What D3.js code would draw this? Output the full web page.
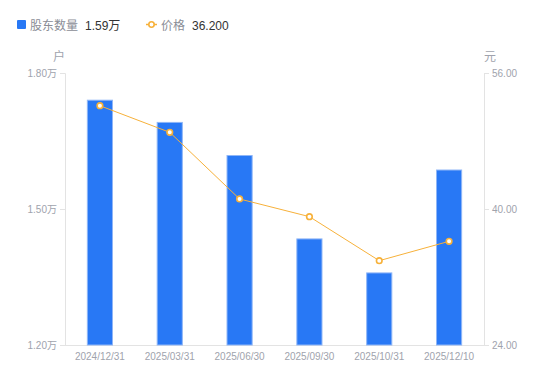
<!DOCTYPE html>
<html><head><meta charset="utf-8">
<script src="https://cdn.jsdelivr.net/npm/d3@7"></script>
<style>
html,body{margin:0;padding:0;background:#fff;}
svg{display:block;font-family:"Liberation Sans","Noto Sans CJK SC",sans-serif;}
</style></head>
<body><svg id="c" width="550" height="381"></svg>
<script>
const categories = ["2024/12/31","2025/03/31","2025/06/30","2025/09/30","2025/10/31","2025/12/10"];
const holders = [1.740, 1.691, 1.618, 1.434, 1.359, 1.586]; // 万户
const prices = [52.15, 49.02, 41.18, 39.10, 33.92, 36.20];
const leftTicks = [1.20, 1.50, 1.80];
const rightTicks = [24, 40, 56];
const legendNames = ["股东数量", "价格"];
const legendValues = ["1.59万", "36.200"];

const FONT = "'Liberation Sans','Noto Sans CJK SC',sans-serif";
const svg = d3.select("#c");
const m = {l:65, r:484, t:73, b:345};
const x = d3.scaleBand().domain(categories).range([m.l, m.r]).paddingInner(0.64).paddingOuter(0.32);
const yL = d3.scaleLinear().domain([1.2, 1.8]).range([m.b, m.t]);
const yR = d3.scaleLinear().domain([24, 56]).range([m.b, m.t]);

const axisColor = "#e3e3e3", txtColor = "#a0a3ad";
const barColor = "#2878f5", lineColor = "#f7b13a";

// axes
const gL = svg.append("g").attr("transform", `translate(${m.l},0)`)
  .call(d3.axisLeft(yL).tickValues(leftTicks).tickSize(5).tickPadding(3).tickFormat(d => d.toFixed(2) + "万"));
const gR = svg.append("g").attr("transform", `translate(${m.r},0)`)
  .call(d3.axisRight(yR).tickValues(rightTicks).tickSize(5).tickPadding(3).tickFormat(d => d.toFixed(2)));
const gB = svg.append("g").attr("transform", `translate(0,${m.b})`)
  .call(d3.axisBottom(x).tickSize(0).tickPadding(8));
[gL, gR, gB].forEach(g => {
  g.select(".domain").attr("stroke", axisColor);
  g.selectAll(".tick line").attr("stroke", axisColor);
  g.selectAll(".tick text").attr("fill", txtColor).attr("font-size", 10).attr("font-family", FONT);
});
gB.select(".domain").attr("d", `M${m.l},0.5H${m.r}`);

// unit labels
svg.append("text").attr("x", 59).attr("y", 61).attr("text-anchor", "middle")
  .attr("font-size", 12).attr("fill", txtColor).text("户");
svg.append("text").attr("x", 490).attr("y", 61).attr("text-anchor", "middle")
  .attr("font-size", 12).attr("fill", txtColor).text("元");

// bars
svg.append("g").selectAll("rect").data(categories).join("rect")
  .attr("x", d => x(d)).attr("width", x.bandwidth())
  .attr("y", (d, i) => yL(holders[i])).attr("height", (d, i) => m.b - yL(holders[i]))
  .attr("fill", barColor).attr("stroke", "#8fb6f7").attr("stroke-width", 1);

// line
const cx = d => x(d) + x.bandwidth() / 2;
svg.append("path").datum(categories)
  .attr("fill", "none").attr("stroke", lineColor).attr("stroke-width", 1)
  .attr("d", d3.line().x(d => cx(d)).y((d, i) => yR(prices[i])));
svg.append("g").selectAll("circle").data(categories).join("circle")
  .attr("cx", d => cx(d)).attr("cy", (d, i) => yR(prices[i])).attr("r", 2.8)
  .attr("fill", "#fff").attr("stroke", lineColor).attr("stroke-width", 1.6);

// legend
const lg = svg.append("g");
lg.append("rect").attr("x", 17).attr("y", 20).attr("width", 9).attr("height", 9).attr("rx", 1).attr("fill", barColor);
lg.append("text").attr("x", 30).attr("y", 29.5).attr("font-size", 12).attr("fill", "#8a8d96").text(legendNames[0]);
lg.append("text").attr("x", 85).attr("y", 29.5).attr("font-size", 12).attr("fill", "#333").text(legendValues[0]);
lg.append("line").attr("x1", 146).attr("x2", 157).attr("y1", 24.5).attr("y2", 24.5).attr("stroke", lineColor).attr("stroke-width", 1.5);
lg.append("circle").attr("cx", 151.5).attr("cy", 24.5).attr("r", 2.7).attr("fill", "#fff").attr("stroke", lineColor).attr("stroke-width", 1.6);
lg.append("text").attr("x", 161).attr("y", 29.5).attr("font-size", 12).attr("fill", "#8a8d96").text(legendNames[1]);
lg.append("text").attr("x", 192).attr("y", 29.5).attr("font-size", 12).attr("fill", "#333").text(legendValues[1]);
</script></body></html>
